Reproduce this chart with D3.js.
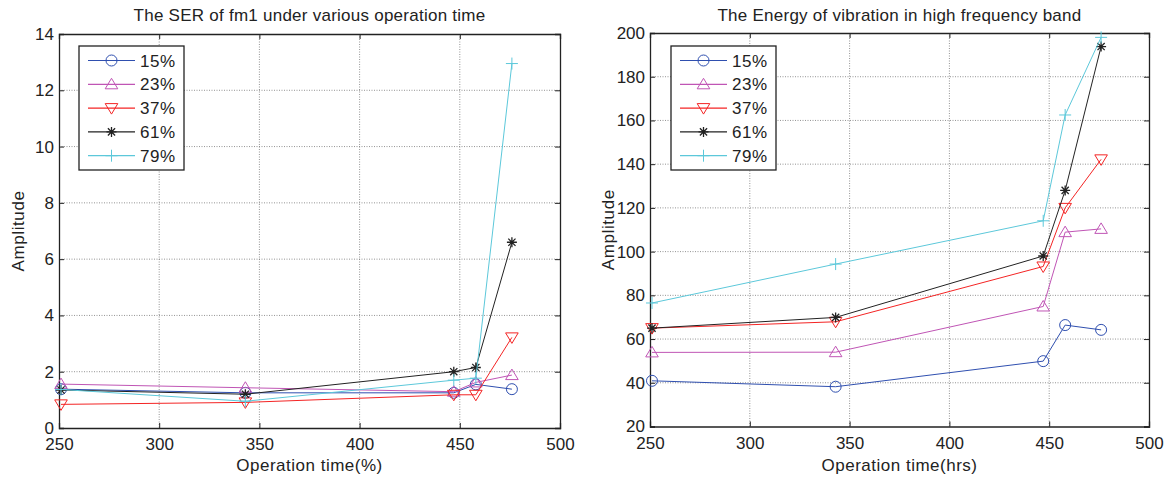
<!DOCTYPE html>
<html><head><meta charset="utf-8">
<script src="https://cdn.jsdelivr.net/npm/d3@7"></script>
<style>body{margin:0;background:#fff}svg{display:block}text{font-family:"Liberation Sans",Arial,sans-serif;fill:#222}</style>
</head><body><svg id="c" width="1168" height="479"></svg>
<script>
const times = [251, 343, 447, 458, 476];
const seriesNames = ["15%", "23%", "37%", "61%", "79%"];
const serValues = [
  [1.38, 1.25, 1.25, 1.55, 1.38],
  [1.56, 1.43, 1.29, 1.62, 1.88],
  [0.84, 0.91, 1.18, 1.18, 3.22],
  [1.35, 1.2, 2.0, 2.15, 6.6],
  [1.37, 0.95, 1.7, 1.77, 12.95]
];
const energyValues = [
  [40.9, 38.2, 49.9, 66.4, 64.2],
  [53.9, 54.0, 74.9, 108.9, 110.4],
  [65.0, 67.9, 93.2, 120.0, 142.2],
  [65.0, 69.9, 98.0, 128.0, 193.8],
  [76.5, 94.3, 114.1, 162.5, 198.0]
];
const xTicks = [250, 300, 350, 400, 450, 500];
const serTicks = [0, 2, 4, 6, 8, 10, 12, 14];
const energyTicks = [20, 40, 60, 80, 100, 120, 140, 160, 180, 200];
const colors = ["#2F4FAF", "#C055B5", "#F42424", "#222222", "#5CC8DA"];
const markers = ["circle", "triUp", "triDown", "star", "plus"];

const svg = d3.select("#c");

function drawMarker(g, type, x, y, color) {
  const s = 6;
  if (type === "circle") {
    g.append("circle").attr("cx", x).attr("cy", y).attr("r", 5.5).attr("fill", "none").attr("stroke", color).attr("stroke-width", 1);
  } else if (type === "triUp") {
    g.append("path").attr("d", `M${x},${y - s}L${x + s * 1.05},${y + s * 0.75}L${x - s * 1.05},${y + s * 0.75}Z`).attr("fill", "none").attr("stroke", color);
  } else if (type === "triDown") {
    g.append("path").attr("d", `M${x},${y + s}L${x + s * 1.05},${y - s * 0.75}L${x - s * 1.05},${y - s * 0.75}Z`).attr("fill", "none").attr("stroke", color);
  } else if (type === "star") {
    const r = 5, d = 3.6;
    g.append("path").attr("d", `M${x - r},${y}H${x + r}M${x},${y - r}V${y + r}M${x - d},${y - d}L${x + d},${y + d}M${x - d},${y + d}L${x + d},${y - d}`).attr("stroke", color).attr("stroke-width", 1.3);
  } else if (type === "plus") {
    const r = 6;
    g.append("path").attr("d", `M${x - r},${y}H${x + r}M${x},${y - r}V${y + r}`).attr("stroke", color).attr("stroke-width", 1);
  }
}

function panel(opt) {
  const {left, right, top, bottom, yDomain, yTicks, data, title, xLabel, legendX, ylabelX} = opt;
  const x = d3.scaleLinear().domain([250, 500]).range([left, right]);
  const y = d3.scaleLinear().domain(yDomain).range([bottom, top]);
  const g = svg.append("g");
  // grid
  g.append("g").selectAll("line.gx").data(xTicks.slice(1, -1)).join("line")
    .attr("x1", d => x(d)).attr("x2", d => x(d)).attr("y1", top).attr("y2", bottom)
    .attr("stroke", "#777").attr("stroke-dasharray", "1,1.5").attr("stroke-width", 0.8);
  g.append("g").selectAll("line.gy").data(yTicks.slice(1, -1)).join("line")
    .attr("y1", d => y(d)).attr("y2", d => y(d)).attr("x1", left).attr("x2", right)
    .attr("stroke", "#777").attr("stroke-dasharray", "1,1.5").attr("stroke-width", 0.8);
  // axes
  const ax = g.append("g").attr("transform", `translate(0,${bottom})`)
    .call(d3.axisBottom(x).tickValues(xTicks).tickSize(-5).tickPadding(10));
  const axT = g.append("g").attr("transform", `translate(0,${top})`)
    .call(d3.axisTop(x).tickValues(xTicks).tickSize(-5).tickFormat(""));
  const ay = g.append("g").attr("transform", `translate(${left},0)`)
    .call(d3.axisLeft(y).tickValues(yTicks).tickSize(-5).tickPadding(5));
  const ayR = g.append("g").attr("transform", `translate(${right},0)`)
    .call(d3.axisRight(y).tickValues(yTicks).tickSize(-5).tickFormat(""));
  [ax, axT, ay, ayR].forEach(a => {
    a.select(".domain").attr("stroke", "#222").attr("stroke-width", 1.3);
    a.selectAll(".tick line").attr("stroke", "#222");
    a.selectAll("text").attr("font-size", 17).attr("fill", "#222").attr("font-family", "Liberation Sans, Arial, sans-serif");
  });
  // lines
  const line = d3.line().x((d, i) => x(times[i])).y(d => y(d));
  data.forEach((vals, si) => {
    g.append("path").attr("d", line(vals)).attr("fill", "none").attr("stroke", colors[si]).attr("stroke-width", 1);
    vals.forEach((v, i) => drawMarker(g, markers[si], x(times[i]), y(v), colors[si]));
  });
  // title and labels
  g.append("text").attr("x", (left + right) / 2).attr("y", 20.5).attr("text-anchor", "middle").attr("font-size", 17).attr("letter-spacing", "0.25").text(title);
  g.append("text").attr("x", (left + right) / 2).attr("y", 471).attr("text-anchor", "middle").attr("font-size", 17).attr("letter-spacing", "0.5").text(xLabel);
  g.append("text").attr("transform", `translate(${ylabelX},${(top + bottom) / 2}) rotate(-90)`).attr("text-anchor", "middle").attr("font-size", 17).attr("letter-spacing", "0.6").text("Amplitude");
  // legend
  const lg = g.append("g");
  lg.append("rect").attr("x", legendX).attr("y", 46).attr("width", 105).attr("height", 124).attr("fill", "#fff").attr("stroke", "#222").attr("stroke-width", 1.3);
  seriesNames.forEach((nm, si) => {
    const ly = 60.5 + si * 23.8;
    lg.append("line").attr("x1", legendX + 9).attr("x2", legendX + 56).attr("y1", ly).attr("y2", ly).attr("stroke", colors[si]).attr("stroke-width", 1.2);
    drawMarker(lg, markers[si], legendX + 32.5, ly, colors[si]);
    lg.append("text").attr("x", legendX + 61).attr("y", ly + 6).attr("font-size", 17).attr("letter-spacing", "0.5").text(nm);
  });
}

panel({left: 59, right: 560, top: 34, bottom: 428, yDomain: [0, 14], yTicks: serTicks, data: serValues,
  title: "The SER of fm1 under various operation time", xLabel: "Operation time(%)", legendX: 79, ylabelX: 24});
panel({left: 650, right: 1149, top: 33, bottom: 426.5, yDomain: [20, 200], yTicks: energyTicks, data: energyValues,
  title: "The Energy of vibration in high frequency band", xLabel: "Operation time(hrs)", legendX: 671, ylabelX: 614});
</script></body></html>
